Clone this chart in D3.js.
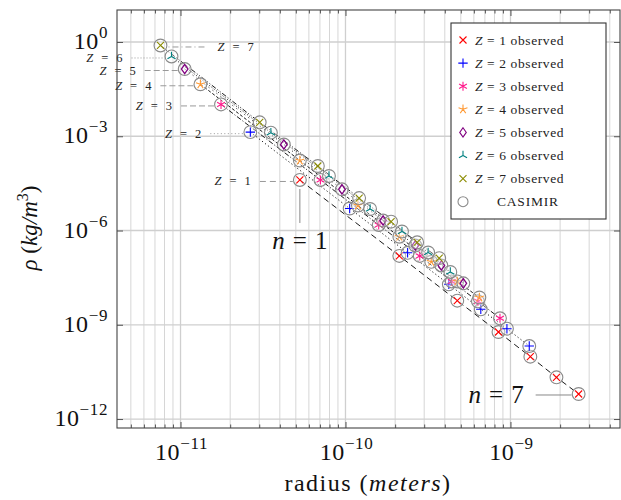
<!DOCTYPE html>
<html><head><meta charset="utf-8">
<script src="https://cdn.jsdelivr.net/npm/d3@7"></script>
<style>body{margin:0;background:#fff}svg{display:block}text{font-family:"Liberation Serif","Times New Roman",serif}</style>
</head><body><svg id="c" width="621" height="500"></svg>
<script>
// ---------- data ----------
const elementsZ = [1, 2, 3, 4, 5, 6, 7];
const levelsN = [1, 2, 3, 4, 5, 6, 7];
const radiusZ1 = [5.29e-11, 2.12e-10, 4.76e-10, 8.46e-10, 1.32e-9, 1.90e-9, 2.59e-9];
const radiusZ2 = [2.65e-11, 1.06e-10, 2.38e-10, 4.23e-10, 6.61e-10, 9.52e-10, 1.30e-9];
const radiusZ3 = [1.76e-11, 7.05e-11, 1.59e-10, 2.82e-10, 4.41e-10, 6.35e-10, 8.64e-10];
const radiusZ4 = [1.32e-11, 5.29e-11, 1.19e-10, 2.12e-10, 3.31e-10, 4.76e-10, 6.48e-10];
const radiusZ5 = [1.06e-11, 4.23e-11, 9.52e-11, 1.69e-10, 2.65e-10, 3.81e-10, 5.18e-10];
const radiusZ6 = [8.82e-12, 3.53e-11, 7.94e-11, 1.41e-10, 2.20e-10, 3.17e-10, 4.32e-10];
const radiusZ7 = [7.56e-12, 3.02e-11, 6.80e-11, 1.21e-10, 1.89e-10, 2.72e-10, 3.70e-10];
const densityZ1 = [4.06e-5, 1.55e-7, 5.84e-9, 5.89e-10, 9.64e-11, 2.13e-11, 6.27e-12];
const densityZ2 = [1.35e-3, 5.02e-6, 1.95e-7, 1.94e-8, 3.11e-9, 7.50e-10, 2.11e-10];
const densityZ3 = [1.03e-2, 4.06e-5, 1.50e-6, 1.55e-7, 2.39e-8, 5.58e-9, 1.61e-9];
const densityZ4 = [4.51e-2, 1.69e-4, 6.25e-6, 6.35e-7, 1.01e-7, 2.39e-8, 7.38e-9];
const densityZ5 = [0.138, 5.47e-4, 2.05e-5, 2.08e-6, 3.33e-7, 7.71e-8, 2.09e-8];
const densityZ6 = [0.346, 1.30e-3, 5.43e-5, 4.84e-6, 9.31e-7, 2.00e-7, 4.79e-8];
const densityZ7 = [0.774, 2.78e-3, 1.13e-4, 1.08e-5, 1.91e-6, 4.22e-7, 1.32e-7];
// CASIMIR values coincide with the observed ones in the picture
const casimirDensityZ1 = densityZ1, casimirDensityZ2 = densityZ2, casimirDensityZ3 = densityZ3,
      casimirDensityZ4 = densityZ4, casimirDensityZ5 = densityZ5, casimirDensityZ6 = densityZ6,
      casimirDensityZ7 = densityZ7;
const xTickValues = [1e-11, 1e-10, 1e-9];
const xTickExponents = ["\u221211", "\u221210", "\u22129"];
const yTickValues = [1, 1e-3, 1e-6, 1e-9, 1e-12];
const yTickExponents = ["0", "\u22123", "\u22126", "\u22129", "\u221212"];
const legendLabels = ["observed", "observed", "observed", "observed", "observed", "observed", "observed"];

// ---------- styles ----------
const colors = ["#ff0000", "#0000ff", "#ff1a8c", "#ff9933", "#800080", "#008080", "#8c8c00"];
const markerTypes = ["x", "plus", "asterisk", "star", "diamond", "tri", "x"];
const lineDash = ["6,4", "1.2,2.5", "5,2,1,2", "3,2", "1,4", "1,1.8", "5,2,1,2,1,2"];
const leaderDash = ["6,4", "1,2.5", "6,3", "6,3", "6,3", "1,2", "1,3,6,3"];

const radii = [radiusZ1, radiusZ2, radiusZ3, radiusZ4, radiusZ5, radiusZ6, radiusZ7];
const dens = [densityZ1, densityZ2, densityZ3, densityZ4, densityZ5, densityZ6, densityZ7];
const cas = [casimirDensityZ1, casimirDensityZ2, casimirDensityZ3, casimirDensityZ4, casimirDensityZ5, casimirDensityZ6, casimirDensityZ7];

const L = 117, R = 620, T = 10, B = 428;
const svg = d3.select("#c");
const x = d3.scaleLog().domain([Math.pow(10, -11.385), Math.pow(10, -8.336)]).range([L, R]);
const y = d3.scaleLog().domain([Math.pow(10, -12.285), Math.pow(10, 1.018)]).range([B, T]);

function markerPath(t) {
  const p = d3.path();
  if (t === "x") { const s = 3.5; p.moveTo(-s, -s); p.lineTo(s, s); p.moveTo(-s, s); p.lineTo(s, -s); }
  else if (t === "plus") { const s = 4.7; p.moveTo(-s, 0); p.lineTo(s, 0); p.moveTo(0, -s); p.lineTo(0, s); }
  else if (t === "asterisk") { const s = 4.5; [90, 30, 150].forEach(a => { const r = a * Math.PI / 180; p.moveTo(-s * Math.cos(r), -s * Math.sin(r)); p.lineTo(s * Math.cos(r), s * Math.sin(r)); }); }
  else if (t === "star") { const s = 4.7; for (let k = 0; k < 5; k++) { const r = (-90 + 72 * k) * Math.PI / 180; p.moveTo(0, 0); p.lineTo(s * Math.cos(r), s * Math.sin(r)); } }
  else if (t === "diamond") { p.moveTo(0, -4.7); p.lineTo(3.3, 0); p.lineTo(0, 4.7); p.lineTo(-3.3, 0); p.closePath(); }
  else if (t === "tri") { const s = 4.7; [-90, 30, 150].forEach(a => { const r = a * Math.PI / 180; p.moveTo(0, 0); p.lineTo(s * Math.cos(r), s * Math.sin(r)); }); }
  return p.toString();
}

// ---------- grid ----------
const minorX = x.ticks().filter(v => !xTickValues.some(m => Math.abs(Math.log10(m) - Math.log10(v)) < 1e-6));
svg.append("g").selectAll("line").data(minorX).join("line")
  .attr("x1", d => x(d)).attr("x2", d => x(d)).attr("y1", T).attr("y2", B)
  .attr("stroke", "#d6d6d6").attr("stroke-width", 1);
svg.append("g").selectAll("line").data(xTickValues).join("line")
  .attr("x1", d => x(d)).attr("x2", d => x(d)).attr("y1", T).attr("y2", B)
  .attr("stroke", "#cfcfcf").attr("stroke-width", 1.3);
svg.append("g").selectAll("line").data(yTickValues).join("line")
  .attr("x1", L).attr("x2", R).attr("y1", d => y(d)).attr("y2", d => y(d))
  .attr("stroke", "#cfcfcf").attr("stroke-width", 1.3);

// ---------- axes (tick marks) ----------
function styleAxis(g) { g.select(".domain").remove(); g.selectAll(".tick line").attr("stroke", "#555"); g.selectAll(".tick text").remove(); }
svg.append("g").attr("transform", `translate(0,${B})`).call(d3.axisBottom(x).tickValues(minorX).tickSize(-3.5)).call(styleAxis);
svg.append("g").attr("transform", `translate(0,${T})`).call(d3.axisTop(x).tickValues(minorX).tickSize(-3.5)).call(styleAxis);
svg.append("g").attr("transform", `translate(0,${B})`).call(d3.axisBottom(x).tickValues(xTickValues).tickSize(-6)).call(styleAxis);
svg.append("g").attr("transform", `translate(0,${T})`).call(d3.axisTop(x).tickValues(xTickValues).tickSize(-6)).call(styleAxis);
svg.append("g").attr("transform", `translate(${L},0)`).call(d3.axisLeft(y).tickValues(yTickValues).tickSize(-6)).call(styleAxis);
svg.append("g").attr("transform", `translate(${R},0)`).call(d3.axisRight(y).tickValues(yTickValues).tickSize(-6)).call(styleAxis);

// tick labels
const xl = svg.append("g").selectAll("text").data(xTickValues).join("text")
  .attr("x", d => x(d) + 1).attr("y", 460).attr("text-anchor", "middle").attr("font-size", 24).attr("fill", "#111").attr("letter-spacing", 0.6);
xl.append("tspan").text("10");
xl.append("tspan").attr("dy", -11).attr("font-size", 17).text((d, i) => xTickExponents[i]);
const yl = svg.append("g").selectAll("text").data(yTickValues).join("text")
  .attr("x", 108).attr("y", d => y(d) + 7).attr("text-anchor", "end").attr("font-size", 24).attr("fill", "#111").attr("letter-spacing", 0.6);
yl.append("tspan").text("10");
yl.append("tspan").attr("dy", -11).attr("font-size", 17).text((d, i) => yTickExponents[i]);

// axis titles
const xt = svg.append("text").attr("x", 368).attr("y", 491).attr("text-anchor", "middle").attr("font-size", 24).attr("fill", "#111").attr("letter-spacing", 1.5);
xt.append("tspan").text("radius (");
xt.append("tspan").attr("font-style", "italic").text("meters");
xt.append("tspan").text(")");
const yt = svg.append("text").attr("transform", "translate(37,228) rotate(-90)").attr("text-anchor", "middle").attr("font-size", 23).attr("fill", "#111");
yt.append("tspan").attr("font-style", "italic").text("\u03c1");
yt.append("tspan").text(" (");
yt.append("tspan").attr("font-style", "italic").text("kg/m");
yt.append("tspan").attr("dy", -9).attr("font-size", 16).text("3");
yt.append("tspan").attr("dy", 9).text(")");

// ---------- series lines ----------
const line = d3.line().x(d => x(d[0])).y(d => y(d[1]));
elementsZ.forEach((z, i) => {
  const pts = levelsN.map((n, j) => [radii[i][j], dens[i][j]]);
  svg.append("path").attr("d", line(pts)).attr("fill", "none").attr("stroke", "#000")
    .attr("stroke-width", 0.9).attr("stroke-dasharray", lineDash[i]);
});

// ---------- Z labels with leaders ----------
elementsZ.forEach((z, i) => {
  const px = x(radii[i][0]), py = y(dens[i][0]);
  const g = svg.append("g");
  const right = z === 7;
  const x1 = right ? px + 8 : px - 40, x2 = right ? px + 46 : px - 7;
  g.append("line").attr("x1", x1).attr("x2", x2).attr("y1", py + 1.5).attr("y2", py + 1.5)
    .attr("stroke", "#999").attr("stroke-width", 1).attr("stroke-dasharray", leaderDash[i]);
  const t = g.append("text").attr("x", right ? px + 57 : px - 49).attr("y", py + 5.5)
    .attr("text-anchor", right ? "start" : "end").attr("font-size", 12.5).attr("fill", "#222");
  t.append("tspan").attr("font-style", "italic").text("Z");
  t.append("tspan").attr("dx", 8).text("=");
  t.append("tspan").attr("dx", 8).text(String(z));
});

// n annotations
{
  const px1 = x(radiusZ1[0]), py1 = y(densityZ1[0]);
  svg.append("line").attr("x1", px1).attr("x2", px1).attr("y1", py1 + 9).attr("y2", py1 + 43).attr("stroke", "#888").attr("stroke-width", 1);
  const t1 = svg.append("text").attr("x", px1).attr("y", py1 + 69).attr("text-anchor", "middle").attr("font-size", 25).attr("fill", "#111");
  t1.append("tspan").attr("font-style", "italic").text("n");
  t1.append("tspan").attr("dx", 8).text("=");
  t1.append("tspan").attr("dx", 8).text("1");
  const px7 = x(radiusZ1[6]), py7 = y(densityZ1[6]);
  svg.append("line").attr("x1", px7 - 43).attr("x2", px7 - 7).attr("y1", py7 + 1).attr("y2", py7 + 1).attr("stroke", "#888").attr("stroke-width", 1);
  const t7 = svg.append("text").attr("x", px7 - 55).attr("y", py7 + 9).attr("text-anchor", "end").attr("font-size", 25).attr("fill", "#111");
  t7.append("tspan").attr("font-style", "italic").text("n");
  t7.append("tspan").attr("dx", 8).text("=");
  t7.append("tspan").attr("dx", 8).text("7");
}

// ---------- points ----------
elementsZ.forEach((z, i) => {
  const g = svg.append("g");
  const obs = levelsN.map((n, j) => [radii[i][j], dens[i][j]]);
  const cs = levelsN.map((n, j) => [radii[i][j], cas[i][j]]);
  g.selectAll("circle").data(cs).join("circle")
    .attr("cx", d => x(d[0])).attr("cy", d => y(d[1])).attr("r", 6.4)
    .attr("fill", "rgba(255,255,255,0.35)").attr("stroke", "#8a8a8a").attr("stroke-width", 1.1);
  g.selectAll("path").data(obs).join("path")
    .attr("transform", d => `translate(${x(d[0])},${y(d[1])})`).attr("d", markerPath(markerTypes[i]))
    .attr("fill", "none").attr("stroke", colors[i]).attr("stroke-width", markerTypes[i] === "diamond" ? 1.3 : 1.1);
});

// frame
svg.append("rect").attr("x", L).attr("y", T).attr("width", R - L).attr("height", B - T)
  .attr("fill", "none").attr("stroke", "#444").attr("stroke-width", 1.1);

// ---------- legend ----------
const lg = svg.append("g");
lg.append("rect").attr("x", 451).attr("y", 23).attr("width", 155).attr("height", 196)
  .attr("fill", "#fff").attr("stroke", "#333").attr("stroke-width", 1.1);
elementsZ.forEach((z, i) => {
  const yy = 40 + i * 23.1;
  lg.append("path").attr("transform", `translate(463,${yy})`).attr("d", markerPath(markerTypes[i]))
    .attr("fill", "none").attr("stroke", colors[i]).attr("stroke-width", 1.1);
  const t = lg.append("text").attr("x", 475).attr("y", yy + 4.5).attr("font-size", 13.5).attr("fill", "#222").attr("letter-spacing", 0.6);
  t.append("tspan").attr("font-style", "italic").text("Z");
  t.append("tspan").text(" = " + z + " " + legendLabels[i]);
});
lg.append("circle").attr("cx", 463).attr("cy", 40 + 7 * 23.1).attr("r", 5).attr("fill", "none").attr("stroke", "#8a8a8a").attr("stroke-width", 1.1);
lg.append("text").attr("x", 497).attr("y", 40 + 7 * 23.1 + 4.5).attr("font-size", 13.5).attr("fill", "#222").attr("letter-spacing", 0.8).text("CASIMIR");
</script></body></html>
